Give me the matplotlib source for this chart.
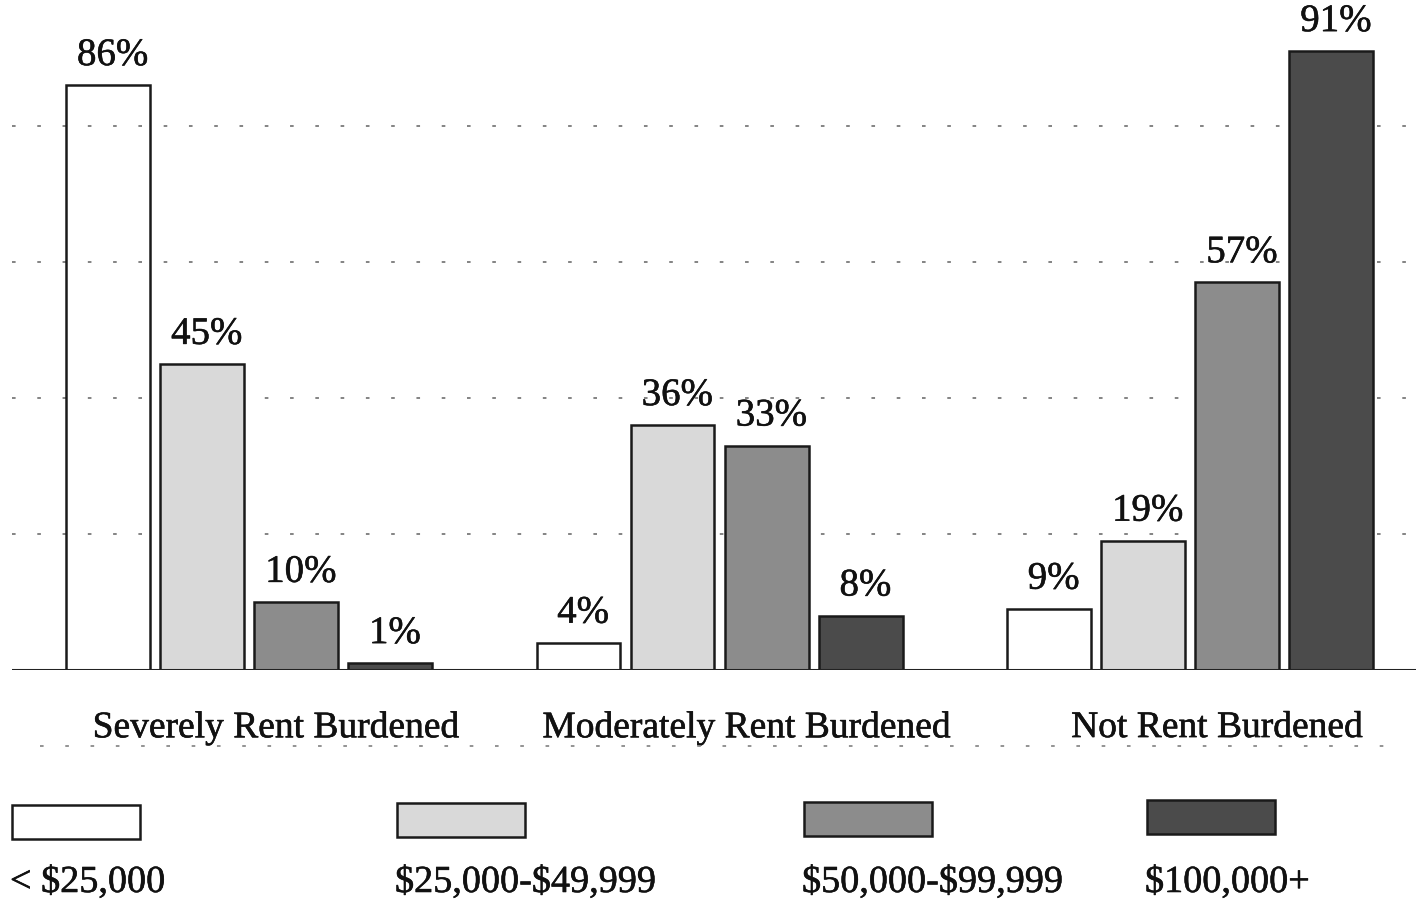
import matplotlib
matplotlib.use("Agg")
import matplotlib.pyplot as plt
import matplotlib.patheffects as pe
from matplotlib.patches import Rectangle
from matplotlib.lines import Line2D

# ---- data -------------------------------------------------------------
categories = ["Severely Rent Burdened", "Moderately Rent Burdened", "Not Rent Burdened"]
income_groups = ["< $25,000", "$25,000-$49,999", "$50,000-$99,999", "$100,000+"]
under_25k = [86, 4, 9]
from_25k_to_50k = [45, 36, 19]
from_50k_to_100k = [10, 33, 57]
over_100k = [1, 8, 91]
series = [under_25k, from_25k_to_50k, from_50k_to_100k, over_100k]

# ---- styling ----------------------------------------------------------
face_colors = ["none", "#d9d9d9", "#8c8c8c", "#4b4b4b"]
legend_faces = ["white", "#d9d9d9", "#8c8c8c", "#4b4b4b"]
serif = ["Liberation Serif", "DejaVu Serif"]
plt.rcParams["font.family"] = serif
ink = "#111111"
heavier = [pe.withStroke(linewidth=0.4, foreground=ink)]

W, H = 1416, 900
fig = plt.figure(figsize=(W / 100, H / 100), dpi=100)
fig.patch.set_facecolor("white")

# axes: baseline at y=670px, left edge at x=12px
ax = fig.add_axes([12 / W, 1 - 670 / H, 1 - 12 / W, (670 - 10) / H])
ax.set_xlim(-0.504, 2.48)
ax.set_ylim(0, 660 / 6.8)

step = 0.2
width = 0.178
centers = list(range(len(categories)))

# dotted gridlines
for g in [20, 40, 60, 80]:
    ax.axhline(g, color="#7a7a7a", lw=1.3, dashes=(2, 12), zorder=0.5)

for i, (vals, fc) in enumerate(zip(series, face_colors)):
    xs = [c + (i - 1.5) * step for c in centers]
    bars = ax.bar(xs, vals, width=width, facecolor=fc, edgecolor="#1a1a1a",
                  linewidth=1.8, zorder=2)
    for b, v in zip(bars, vals):
        ax.annotate(f"{v}%", (b.get_x() + b.get_width() / 2 + 0.01, v),
                    xytext=(0, 8), textcoords="offset points",
                    ha="center", va="bottom", fontsize=28, color=ink,
                    path_effects=heavier)

# baseline
ax.axhline(0, color="#222222", lw=2.2, zorder=3)

for c, name in zip(centers, categories):
    ax.text(c + 0.057, -8.5, name, ha="center", va="center",
            fontsize=27, color=ink, clip_on=False, path_effects=heavier)

for s in ax.spines.values():
    s.set_visible(False)
ax.set_xticks([])
ax.set_yticks([])

# dotted rule beneath the category labels
fig.add_artist(Line2D([40 / W, 1400 / W], [1 - 746 / H, 1 - 746 / H],
                      color="#8a8a8a", lw=1.3, dashes=(2, 12),
                      transform=fig.transFigure))

# legend: swatch with its label beneath
swatch_left = [12, 397, 804, 1147]
swatch_top = [805, 803, 802, 800]
for x0, y0, fc, lab in zip(swatch_left, swatch_top, legend_faces, income_groups):
    fig.add_artist(Rectangle((x0 / W, 1 - (y0 + 34) / H), 128 / W, 34 / H,
                             facecolor=fc, edgecolor="#1a1a1a", lw=1.8,
                             transform=fig.transFigure))
    fig.text((x0 - 2) / W, 1 - 892 / H, lab, ha="left", va="baseline",
             fontsize=27.5, color=ink, parse_math=False, path_effects=heavier)

fig.savefig("out.png", dpi=100, facecolor="white")
